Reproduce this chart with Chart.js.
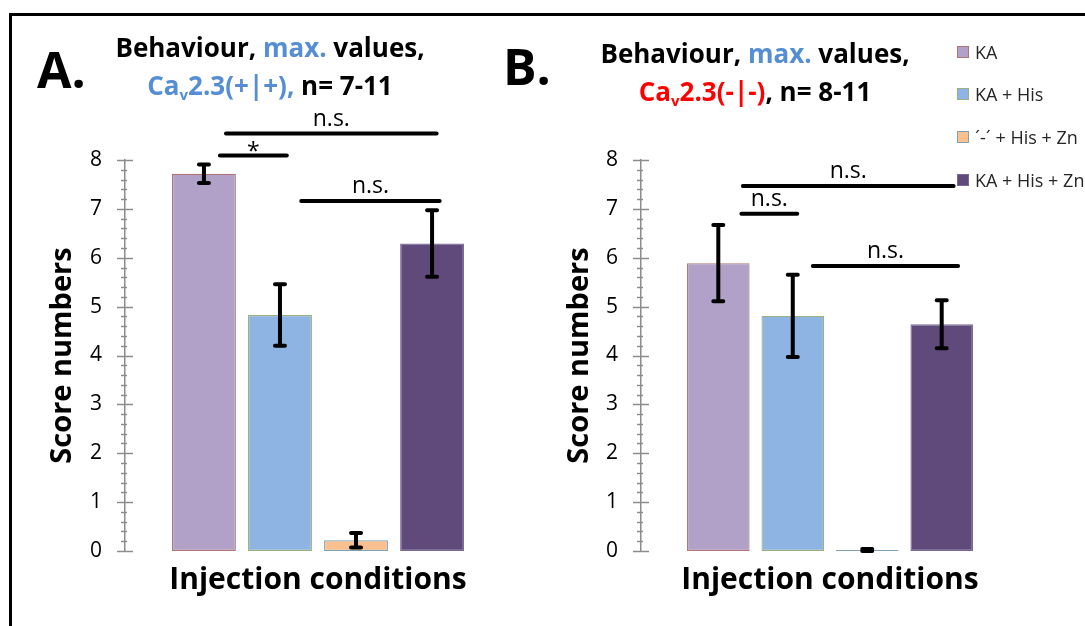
<!DOCTYPE html>
<html>
<head>
<meta charset="utf-8">
<script src="https://cdn.jsdelivr.net/npm/chart.js@4.4.1/dist/chart.umd.min.js"></script>
<style>
  body { margin: 0; width: 1085px; height: 626px; overflow: hidden; background: #fff; position: relative; font-family: "Open Sans", sans-serif; }
  .frame { position: absolute; left: 9px; top: 13px; width: 1100px; height: 700px; border-left: 3px solid #000; border-top: 3px solid #000; }
  .box { position: absolute; top: 0; height: 626px; }
  .title { position: absolute; font-weight: bold; font-size: 26px; line-height: 38px; text-align: center; white-space: nowrap; transform: translateX(-50%); color: #000; }
  .panel { position: absolute; font-weight: bold; font-size: 50px; line-height: 50px; color: #000; }
  sub { font-size: 15px; vertical-align: -5px; line-height: 0; }
  .blue { color: #558ed5; }
  .red { color: #ff0000; }
  .leg { position: absolute; left: 957px; font-size: 18px; line-height: 20px; color: #262626; white-space: nowrap; }
  .leg i { position: absolute; left: 0; top: 4px; width: 10px; height: 10px; border: 1px solid; }
  .leg span { position: absolute; left: 18px; top: 0; }
</style>
</head>
<body>
<div class="frame"></div>
<div class="box" style="left:0;width:540px"><canvas id="chartA"></canvas></div>
<div class="box" style="left:540px;width:545px"><canvas id="chartB"></canvas></div>

<div class="panel" style="left:37px;top:44px">A.</div>
<div class="title" style="left:270px;top:28px">Behaviour, <span class="blue">max.</span> values,<br><span class="blue">Ca<sub>v</sub>2.3(+|+),</span> n= 7-11</div>

<div class="panel" style="left:503px;top:41px">B.</div>
<div class="title" style="left:755px;top:34px">Behaviour, <span class="blue">max.</span> values,<br><span class="red">Ca<sub>v</sub>2.3(-|-)</span>, n= 8-11</div>

<div id="legend"></div>

<script>
const seriesLabels = ["KA", "KA + His", "´-´ + His + Zn", "KA + His + Zn"];
const fillColors = ["#b1a0c7", "#8eb4e3", "#fac08f", "#604a7b"];
const edgeColors = ["#b07575", "#9bb07a", "#7fa1b3", "#7b6a95"];
const yTicks = [0, 1, 2, 3, 4, 5, 6, 7, 8];

// panel A: Cav2.3(+|+)
const valuesA = [7.72, 4.83, 0.22, 6.29];
const errorsA = [0.19, 0.63, 0.15, 0.68];
// significance bars, positions in bar-index units
const sigFromA = [0.29, 0.21, 1.28];
const sigToA = [3.06, 1.09, 3.1];
const sigLevelA = [8.54, 8.09, 7.16];
const sigTextA = ["n.s.", "*", "n.s."];

// panel B: Cav2.3(-|-)
const valuesB = [5.89, 4.81, 0.02, 4.64];
const errorsB = [0.78, 0.84, 0.02, 0.49];
const sigFromB = [0.33, 0.31, 1.27];
const sigToB = [3.16, 1.06, 3.22];
const sigLevelB = [7.47, 6.9, 5.83];
const sigTextB = ["n.s.", "n.s.", "n.s."];

function extrasPlugin(errors, sigFrom, sigTo, sigLevel, sigText) {
  return {
    id: "extras",
    afterDraw(chart) {
      const ctx = chart.ctx;
      const y = chart.scales.y;
      const metas = chart.getSortedVisibleDatasetMetas();
      ctx.save();

      // y axis ticks, major and minor
      ctx.strokeStyle = "#8c8c8c";
      ctx.lineWidth = 1.5;
      const ax = chart.chartArea.left;
      for (let i = 0; i <= 40; i++) {
        const py = Math.round(y.getPixelForValue(i / 5)) + 0.5;
        const major = i % 5 === 0;
        ctx.beginPath();
        ctx.moveTo(ax - (major ? 8 : 4), py);
        ctx.lineTo(ax + (major ? 8 : 2), py);
        ctx.stroke();
      }

      // error bars
      ctx.strokeStyle = "#000";
      ctx.lineCap = "round";
      ctx.lineWidth = 4;
      metas.forEach((meta, i) => {
        const bar = meta.data[0];
        const v = chart.data.datasets[i].data[0];
        const top = y.getPixelForValue(v + errors[i]);
        const bot = y.getPixelForValue(v - errors[i]);
        ctx.beginPath();
        ctx.moveTo(bar.x, top);
        ctx.lineTo(bar.x, bot);
        ctx.moveTo(bar.x - 5, top);
        ctx.lineTo(bar.x + 5, top);
        ctx.moveTo(bar.x - 5, bot);
        ctx.lineTo(bar.x + 5, bot);
        ctx.stroke();
      });

      // significance lines
      const c0 = metas[0].data[0].x;
      const slot = metas[1].data[0].x - c0;
      ctx.fillStyle = "#000";
      ctx.font = "23px 'Open Sans'";
      ctx.textAlign = "center";
      ctx.textBaseline = "alphabetic";
      sigLevel.forEach((lvl, i) => {
        const x1 = c0 + sigFrom[i] * slot;
        const x2 = c0 + sigTo[i] * slot;
        const py = y.getPixelForValue(lvl);
        ctx.beginPath();
        ctx.moveTo(x1, py);
        ctx.lineTo(x2, py);
        ctx.stroke();
        const dy = sigText[i] === "*" ? 3 : -8;
        ctx.fillText(sigText[i], (x1 + x2) / 2, py + dy);
      });
      ctx.restore();
    },
  };
}

function makeChart(id, values, errors, sigFrom, sigTo, sigLevel, sigText, layout) {
  return new Chart(document.getElementById(id), {
    type: "bar",
    data: {
      labels: [""],
      datasets: seriesLabels.map((label, i) => ({
        label: label,
        data: [values[i]],
        backgroundColor: fillColors[i],
        borderColor: edgeColors[i],
        borderWidth: 1.2,
        borderSkipped: false,
      })),
    },
    options: {
      responsive: true,
      maintainAspectRatio: false,
      animation: false,
      categoryPercentage: 0.788,
      barPercentage: 0.84,
      layout: { padding: { left: 0, top: 160, right: layout.right, bottom: 0 } },
      plugins: { legend: { display: false }, tooltip: { enabled: false } },
      scales: {
        x: {
          grid: { display: false, drawTicks: false },
          border: { display: false },
          ticks: { display: false },
          title: {
            display: true,
            text: "Injection conditions",
            color: "#000",
            font: { family: "Open Sans", size: 30, weight: "bold" },
            padding: { top: 0, bottom: 28 },
          },
          afterFit: (s) => { s.height = 75; },
        },
        y: {
          min: 0,
          max: 8,
          afterBuildTicks: (s) => { s.ticks = yTicks.map((v) => ({ value: v })); },
          grid: { display: false, drawTicks: false },
          border: { display: true, color: "#8c8c8c", width: 1.5 },
          ticks: {
            color: "#000",
            padding: 23,
            font: { family: "Open Sans", size: 21 },
          },
          title: {
            display: true,
            text: "Score numbers",
            color: "#000",
            font: { family: "Open Sans", size: 29, weight: "bold" },
            padding: { top: layout.titlePad, bottom: 0 },
          },
          afterFit: (s) => { s.width = layout.axis; },
        },
      },
    },
    plugins: [extrasPlugin(errors, sigFrom, sigTo, sigLevel, sigText)],
  });
}

makeChart("chartA", valuesA, errorsA, sigFromA, sigToA, sigLevelA, sigTextA, { right: 29, axis: 125, titlePad: 45 });
makeChart("chartB", valuesB, errorsB, sigFromB, sigToB, sigLevelB, sigTextB, { right: 66, axis: 101, titlePad: 22 });

// legend (panel B)
const legendTops = [42, 84, 127, 170];
const legendEl = document.getElementById("legend");
seriesLabels.forEach((label, i) => {
  const item = document.createElement("div");
  item.className = "leg";
  item.style.top = legendTops[i] + "px";
  const sq = document.createElement("i");
  sq.style.background = fillColors[i];
  sq.style.borderColor = edgeColors[i];
  const tx = document.createElement("span");
  tx.textContent = label;
  item.appendChild(sq);
  item.appendChild(tx);
  legendEl.appendChild(item);
});
</script>
</body>
</html>
